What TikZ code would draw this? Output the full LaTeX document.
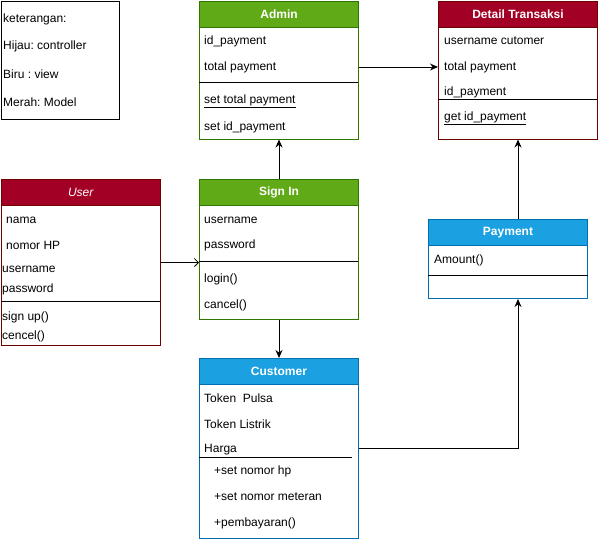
\documentclass[tikz,border=0pt]{standalone}
\usepackage{fontspec}
\setmainfont{Liberation Sans}
\usetikzlibrary{arrows.meta}
\frenchspacing
\definecolor{gfill}{HTML}{60A917}\definecolor{gline}{HTML}{2D7600}
\definecolor{rfill}{HTML}{A20025}\definecolor{rline}{HTML}{6F0000}
\definecolor{bfill}{HTML}{1BA1E2}\definecolor{bline}{HTML}{006EAF}
\tikzset{
  body/.style={draw=#1, line width=1pt, fill=white, anchor=north west, inner sep=0, minimum width=159, rectangle},
  head/.style={draw=#1, line width=1pt, anchor=north west, inner sep=0, minimum width=159, minimum height=26, text=white, font=\fontsize{12}{14}\selectfont\bfseries},
  txt/.style={anchor=west, inner sep=0, yshift=-1pt, font=\fontsize{12}{14}\selectfont\frenchspacing},
  sep/.style={line width=1pt},
  arr/.style={line width=1pt, -{Stealth[length=8,width=7]}},
  oarr/.style={line width=0.8pt, -{Straight Barb[length=4,width=8]}}
}
\begin{document}
\begin{tikzpicture}[x=1pt,y=-1pt]
\useasboundingbox (0,0) rectangle (600,539);
% legend
\node[draw=black, line width=1pt, anchor=north west, minimum width=118, minimum height=118, inner sep=0] (legend) at (0.5,0.5) {};
\node[txt] (l1) at (3,18) {keterangan:};
\node[txt] (l2) at (3,45) {Hijau: controller};
\node[txt] (l3) at (3,73) {Biru : view};
\node[txt] (l4) at (3,101) {Merah: Model};
% Admin
\node[body=gline, minimum height=138] (admin) at (199,0.5) {};
\node[head=gline, fill=gfill] (adminH) at (199,0.5) {Admin};
\node[txt] (a1) at (204,40) {id\_payment};
\node[txt] (a2) at (204,66) {total payment};
\draw[sep] (199,82) -- (358,82);
\node[txt] (a3) at (204,100) {\underline{set total payment}};
\node[txt] (a4) at (204,126) {set id\_payment};
% Detail Transaksi
\node[body=rline, minimum height=138] (detail) at (438,0.5) {};
\node[head=rline, fill=rfill] (detailH) at (438,0.5) {Detail Transaksi};
\node[txt] (d1) at (444,40) {username cutomer};
\node[txt] (d2) at (444,66) {total payment};
\node[txt] (d3) at (444,91) {id\_payment};
\draw[sep] (438,99) -- (597,99);
\node[txt] (d4) at (444,117) {\underline{get id\_payment}};
% User
\node[body=rline, minimum height=166] (user) at (0.5,179) {};
\node[head=rline, fill=rfill, minimum width=159.5, font=\fontsize{12}{14}\selectfont\itshape] (userH) at (0.5,179) {User};
\node[txt] (u1) at (6,219) {nama};
\node[txt] (u2) at (6,244) {nomor HP};
\node[txt] (u3) at (2,268) {username};
\node[txt] (u4) at (2,288) {password};
\draw[sep] (0.5,301) -- (160,301);
\node[txt] (u5) at (2,316) {sign up()};
\node[txt] (u6) at (2,335) {cencel()};
% Sign In
\node[body=gline, minimum height=140] (signin) at (199,179) {};
\node[head=gline, fill=gfill] (signinH) at (199,179) {Sign In};
\node[txt] (s1) at (204,219) {username};
\node[txt] (s2) at (204,244) {password};
\draw[sep] (199,261) -- (358,261);
\node[txt] (s3) at (204,278) {login()};
\node[txt] (s4) at (204,304) {cancel()};
% Payment
\node[body=bline, minimum height=79] (payment) at (428,219) {};
\node[head=bline, fill=bfill] (paymentH) at (428,219) {Payment};
\node[txt] (p1) at (434,259) {Amount()};
\draw[sep] (428,275) -- (588,275);
% Customer
\node[body=bline, minimum height=180] (customer) at (199,358) {};
\node[head=bline, fill=bfill] (customerH) at (199,358) {Customer};
\node[txt] (c1) at (204,397) {Token\ \ Pulsa};
\node[txt] (c2) at (204,423) {Token Listrik};
\node[txt] (c3) at (204,449) {Harga};
\draw[sep] (199,457) -- (352,457);
\node[txt] (c4) at (214,470) {+set nomor hp};
\node[txt] (c5) at (214,496) {+set nomor meteran};
\node[txt] (c6) at (214,522) {+pembayaran()};
% connectors
\draw[arr] ([yshift=3]admin.east) -- ([yshift=3]admin.east -| detail.west);
\draw[oarr] (user.east) -- (user.east -| signin.west);
\draw[arr] (signin.north) -- (admin.south);
\draw[arr] (signin.south) -- (customer.north);
\draw[arr] (customer.east) -| ([xshift=10]payment.south);
\draw[arr] ([xshift=10]payment.north) -- (detail.south);
\end{tikzpicture}
\end{document}
